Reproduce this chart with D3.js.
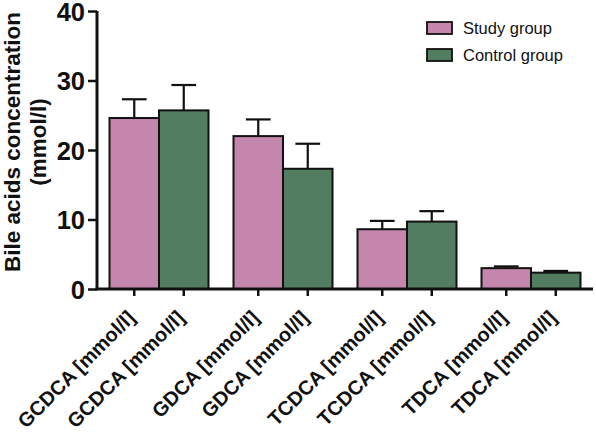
<!DOCTYPE html>
<html><head><meta charset="utf-8">
<script src="https://cdn.jsdelivr.net/npm/d3@7/dist/d3.min.js"></script>
<style>body{margin:0;background:#fff}svg{display:block}</style>
</head><body>
<svg id="c" width="596" height="433"></svg>
<script>
const compounds = ["GCDCA", "GDCA", "TCDCA", "TDCA"];
const series = ["Study group", "Control group"];
const studyMeans = [24.6, 22.0, 8.6, 3.0];
const studyErr = [2.7, 2.4, 1.2, 0.25];
const controlMeans = [25.7, 17.3, 9.7, 2.35];
const controlErr = [3.65, 3.6, 1.5, 0.25];
const colors = ["#c586ad", "#537d60"];
const yTicks = [0, 10, 20, 30, 40];
const unitLabel = " [mmol/l]";

const svg = d3.select("#c");
const font = "'Liberation Sans', Arial, Helvetica, sans-serif";
const mLeft = 97, mRight = 593, mTop = 11, mBottom = 289;

const x0 = d3.scaleBand().domain(compounds).range([mLeft, mRight]).paddingInner(25/124).paddingOuter(12.5/124);
const x1 = d3.scaleBand().domain(series).range([0, x0.bandwidth()]);
const y = d3.scaleLinear().domain([0, 40]).range([mBottom, mTop]);

const rows = [];
compounds.forEach((c, i) => {
  rows.push({c, s: series[0], v: studyMeans[i], e: studyErr[i], col: colors[0]});
  rows.push({c, s: series[1], v: controlMeans[i], e: controlErr[i], col: colors[1]});
});

// error bars
const eb = svg.append("g").attr("stroke", "#111").attr("stroke-width", 2.2);
rows.forEach(r => {
  const cx = x0(r.c) + x1(r.s) + x1.bandwidth()/2;
  const cw = x1.bandwidth()/4;
  eb.append("line").attr("x1", cx).attr("x2", cx).attr("y1", y(r.v)).attr("y2", y(r.v + r.e));
  eb.append("line").attr("x1", cx - cw).attr("x2", cx + cw).attr("y1", y(r.v + r.e)).attr("y2", y(r.v + r.e));
});

// bars
svg.append("g").selectAll("rect").data(rows).join("rect")
  .attr("x", d => x0(d.c) + x1(d.s))
  .attr("y", d => y(d.v))
  .attr("width", x1.bandwidth())
  .attr("height", d => y(0) - y(d.v))
  .attr("fill", d => d.col)
  .attr("stroke", "#111").attr("stroke-width", 2);

// y axis
const ya = svg.append("g").attr("transform", `translate(${mLeft},0)`)
  .call(d3.axisLeft(y).tickValues(yTicks).tickSize(9).tickPadding(3).tickFormat(d3.format("d")));
ya.select(".domain").attr("stroke", "#111").attr("stroke-width", 3).attr("d", `M0,${mTop}V${mBottom}`);
ya.selectAll(".tick line").attr("stroke", "#111").attr("stroke-width", 2.5);
ya.selectAll(".tick text").attr("font-family", font).attr("font-weight", "bold")
  .attr("font-size", 25.5).attr("fill", "#111").attr("dy", "0.37em");

// x axis
const xa = svg.append("g").attr("transform", `translate(0,${mBottom})`);
xa.append("line").attr("x1", mLeft - 1.5).attr("x2", mRight).attr("y1", 0).attr("y2", 0)
  .attr("stroke", "#111").attr("stroke-width", 3);
rows.forEach(r => {
  const cx = x0(r.c) + x1(r.s) + x1.bandwidth()/2;
  xa.append("line").attr("x1", cx).attr("x2", cx).attr("y1", 0).attr("y2", 7)
    .attr("stroke", "#111").attr("stroke-width", 2.5);
  xa.append("text").attr("transform", `translate(${cx + 2},${30}) rotate(-45)`)
    .attr("text-anchor", "end")
    .attr("font-family", font).attr("font-weight", "bold").attr("font-size", 20).attr("fill", "#111")
    .text(r.c + unitLabel);
});

// y label
const yl = svg.append("text").attr("transform", "translate(20,142) rotate(-90)")
  .attr("text-anchor", "middle").attr("font-family", font).attr("font-weight", "bold")
  .attr("font-size", 22.5).attr("fill", "#111");
yl.append("tspan").attr("x", 0).attr("dy", 0).text("Bile acids concentration");
yl.append("tspan").attr("x", 0).attr("dy", 26).text("(mmol/l)");

// legend
const lg = svg.append("g");
series.forEach((s, i) => {
  lg.append("rect").attr("x", 427).attr("y", 22 + i*27).attr("width", 25).attr("height", 12)
    .attr("fill", colors[i]).attr("stroke", "#111").attr("stroke-width", 1.8);
  lg.append("text").attr("x", 463).attr("y", 28 + i*27).attr("dy", "0.35em")
    .attr("font-family", font).attr("font-size", 16.5).attr("fill", "#111").text(s);
});
</script>
</body></html>
